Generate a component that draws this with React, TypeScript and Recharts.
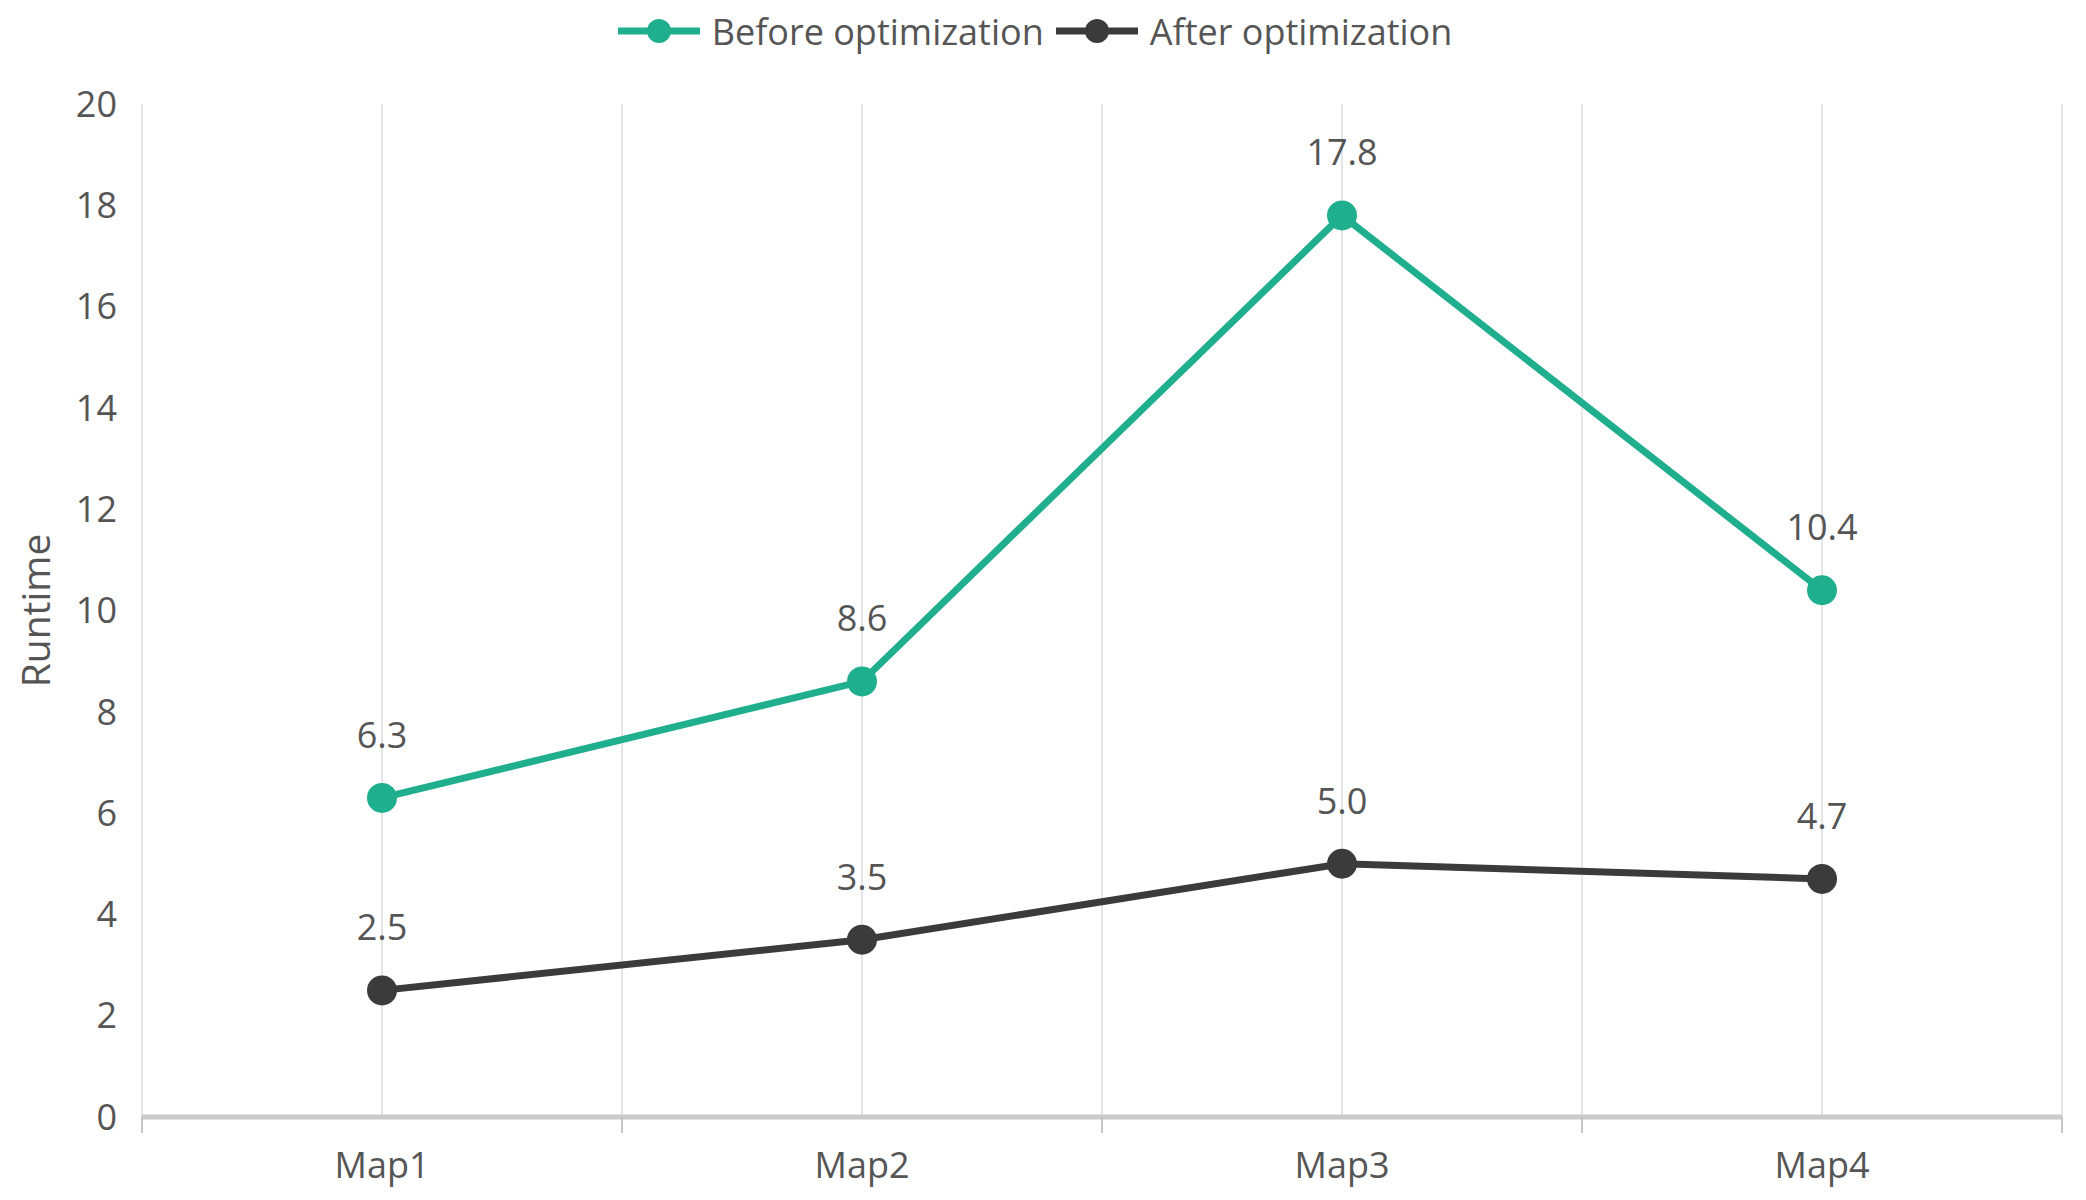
import React from "react";
import { LineChart, Line, XAxis, YAxis, CartesianGrid, Legend, LabelList } from "recharts";

const maps = ["Map1", "Map2", "Map3", "Map4"];
const beforeOpt = [6.3, 8.6, 17.8, 10.4];
const afterOpt = [2.5, 3.5, 5.0, 4.7];
const seriesNames = ["Before optimization", "After optimization"];
const yTicks = [0, 2, 4, 6, 8, 10, 12, 14, 16, 18, 20];

const data = maps.map((name, i) => ({ name, before: beforeOpt[i], after: afterOpt[i] }));

const TEAL = "#20AF8E";
const DARK = "#3B3B3B";
const TEXT = "#555555";
const FONT = "'Open Sans', sans-serif";
const X_TICK_GAP = 35;

const renderLegend = (props: any) => {
  const items = [...(props.payload || [])].sort(
    (a: any, b: any) => seriesNames.indexOf(a.value) - seriesNames.indexOf(b.value)
  );
  return (
    <div
      style={{
        display: "flex",
        justifyContent: "center",
        alignItems: "center",
        height: 46,
        gap: 12,
        fontFamily: FONT,
        fontSize: 36,
        color: TEXT,
      }}
    >
      {items.map((entry: any) => (
        <div key={entry.value} style={{ display: "flex", alignItems: "center", gap: 12 }}>
          <svg width={82} height={30}>
            <line x1={0} y1={15} x2={82} y2={15} stroke={entry.color} strokeWidth={7} />
            <circle cx={41} cy={15} r={12} fill={entry.color} />
          </svg>
          <span>{entry.value}</span>
        </div>
      ))}
    </div>
  );
};

const RuntimeLabel = (props: any) => {
  const { viewBox } = props;
  const cy = viewBox.y + viewBox.height / 2;
  return (
    <text
      transform={`translate(${viewBox.x + 42}, ${cy}) rotate(-90)`}
      textAnchor="middle"
      fill={TEXT}
      fontSize={39}
      fontFamily={FONT}
    >
      Runtime
    </text>
  );
};

// category label plus small tick marks on the band edges
const MapTick = (props: any) => {
  const { x, y, payload, visibleTicksCount } = props;
  const axisY = y - X_TICK_GAP;
  const half = payload.offset || 0;
  const edges = [x - half];
  if (payload.index === visibleTicksCount - 1) edges.push(x + half);
  return (
    <g>
      {half > 0 &&
        edges.map((ex) => (
          <line key={ex} x1={ex} x2={ex} y1={axisY} y2={axisY + 16} stroke="#c4c4c4" strokeWidth={2} />
        ))}
      <text x={x} y={y} dy="0.71em" textAnchor="middle" fill={TEXT} fontSize={36} fontFamily={FONT}>
        {payload.value}
      </text>
    </g>
  );
};

// grid lines at every category centre and band edge
const gridLines = ({ offset }: any) => {
  const steps = maps.length * 2;
  return Array.from({ length: steps + 1 }, (_, k) => offset.left + (offset.width * k) / steps);
};

const fmt = (v: any) => Number(v).toFixed(1);

export default function App() {
  return (
    <div style={{ width: 2070, height: 1184 }}>
      <LineChart width={2070} height={1184} data={data} margin={{ top: 0, right: 16, left: 0, bottom: 0 }}>
        <Legend verticalAlign="top" height={96} content={renderLegend} wrapperStyle={{ top: 0 }} />
        <CartesianGrid
          horizontal={false}
          stroke="#e6e6e6"
          strokeWidth={2}
          xAxisId="cat"
          verticalCoordinatesGenerator={gridLines}
        />
        <XAxis
          xAxisId="cat"
          dataKey="name"
          scale="band"
          height={75}
          tickLine={false}
          tickSize={0}
          tickMargin={X_TICK_GAP}
          axisLine={{ stroke: "#cbcbcb", strokeWidth: 5 }}
          tick={<MapTick />}
        />
        <YAxis
          domain={[0, 20]}
          ticks={yTicks}
          width={134}
          axisLine={false}
          tickLine={false}
          tickSize={0}
          tickMargin={25}
          tick={{ fill: TEXT, fontSize: 36, fontFamily: FONT }}
          label={<RuntimeLabel />}
        />
        <YAxis
          yAxisId="edge"
          orientation="right"
          domain={[0, 20]}
          width={0}
          tick={false}
          tickLine={false}
          axisLine={{ stroke: "#d0d0d0", strokeWidth: 4 }}
        />
        <Line
          xAxisId="cat"
          name={seriesNames[0]}
          dataKey="before"
          stroke={TEAL}
          strokeWidth={7}
          dot={{ r: 15, fill: TEAL, stroke: TEAL, strokeWidth: 0 }}
          activeDot={false}
          isAnimationActive={false}
        >
          <LabelList dataKey="before" position="top" offset={50} formatter={fmt} fill={TEXT} fontSize={36} fontFamily={FONT} />
        </Line>
        <Line
          xAxisId="cat"
          name={seriesNames[1]}
          dataKey="after"
          stroke={DARK}
          strokeWidth={7}
          dot={{ r: 15, fill: DARK, stroke: DARK, strokeWidth: 0 }}
          activeDot={false}
          isAnimationActive={false}
        >
          <LabelList dataKey="after" position="top" offset={50} formatter={fmt} fill={TEXT} fontSize={36} fontFamily={FONT} />
        </Line>
      </LineChart>
    </div>
  );
}
